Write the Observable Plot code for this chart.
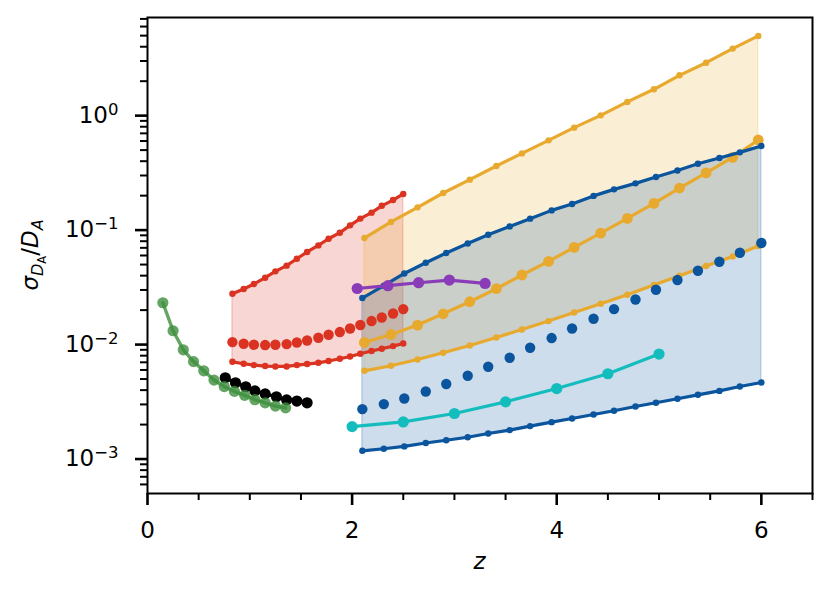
<!DOCTYPE html>
<html>
<head>
<meta charset="utf-8">
<script src="https://cdn.jsdelivr.net/npm/d3@7"></script>
<script src="https://cdn.jsdelivr.net/npm/@observablehq/plot@0.6"></script>
<style>
  html, body { margin: 0; padding: 0; background: #fff; overflow: hidden; }
  #chart svg { display: block; }
</style>
</head>
<body>
<div id="chart"></div>
<script>
// ---------------- data ----------------
const zGreen = [0.15,0.25,0.35,0.45,0.55,0.65,0.75,0.85,0.95,1.05,1.15,1.25,1.35];
const green  = [0.0232,0.0132,0.0090,0.0071,0.0059,0.0049,0.0043,0.0039,0.0036,0.0033,0.0031,0.0029,0.0028];

const zBlack = [0.76,0.86,0.96,1.05,1.15,1.26,1.36,1.46,1.56];
const black  = [0.00513,0.00464,0.00428,0.00394,0.00371,0.00350,0.00329,0.00321,0.00310];

const zRed   = [0.83,0.94,1.04,1.15,1.25,1.36,1.46,1.56,1.67,1.77,1.88,1.98,2.08,2.19,2.29,2.40,2.50];
const redHi  = [0.0278,0.0306,0.0338,0.0384,0.0436,0.0489,0.0562,0.0644,0.0735,0.0841,0.0949,0.110,0.126,0.142,0.163,0.183,0.207];
const redMid = [0.01051,0.01016,0.00996,0.00990,0.00996,0.01010,0.01043,0.01086,0.01146,0.01218,0.01286,0.01383,0.01481,0.01605,0.01725,0.01868,0.02041];
const redLo  = [0.00707,0.00680,0.00662,0.00649,0.00644,0.00644,0.00662,0.00676,0.00693,0.00718,0.00752,0.00787,0.00831,0.00878,0.00919,0.00970,0.01022];

const zOrange   = [2.12,2.38,2.64,2.89,3.15,3.41,3.66,3.92,4.17,4.43,4.69,4.95,5.20,5.46,5.72,5.97];
const orangeHi  = [0.0853,0.1178,0.158,0.211,0.276,0.363,0.468,0.608,0.785,1.006,1.318,1.698,2.25,2.90,3.85,4.97];
const orangeMid = [0.01043,0.01225,0.01480,0.01858,0.02366,0.03076,0.04053,0.0533,0.0706,0.0941,0.1265,0.171,0.233,0.316,0.432,0.613];
const orangeLo  = [0.00590,0.00653,0.00741,0.00848,0.00982,0.01154,0.01355,0.01604,0.01908,0.02274,0.02723,0.0331,0.0399,0.0486,0.0589,0.0726];

const zBlue   = [2.10,2.31,2.51,2.72,2.92,3.13,3.33,3.54,3.74,3.95,4.15,4.36,4.56,4.77,4.97,5.18,5.38,5.59,5.79,6.00];
const blueHi  = [0.0255,0.0327,0.0418,0.0519,0.0631,0.0764,0.0912,0.1077,0.1259,0.1487,0.169,0.199,0.227,0.256,0.291,0.332,0.380,0.427,0.478,0.543];
const blueMid = [0.00273,0.00302,0.00338,0.00389,0.00452,0.00534,0.00640,0.00767,0.00938,0.01140,0.01383,0.01682,0.02042,0.02477,0.03013,0.03661,0.04417,0.05294,0.06343,0.07713];
const blueLo  = [0.00118,0.00123,0.00129,0.00138,0.00146,0.00155,0.00167,0.00179,0.00194,0.00210,0.00226,0.00245,0.00264,0.00288,0.00310,0.00336,0.00364,0.00394,0.00430,0.00466];

const zPurple = [2.05,2.35,2.65,2.95,3.30];
const purple  = [0.0309,0.0327,0.0347,0.0366,0.0342];

const zCyan = [2.0,2.5,3.0,3.5,4.0,4.5,5.0];
const cyan  = [0.00192,0.00211,0.00250,0.00316,0.00413,0.00556,0.00826];

const xMajorTicks = [0,2,4,6];
const xMinorTicks = [0.5,1,1.5,2.5,3,3.5,4.5,5,5.5,6.5];
const yMajorTicks = [1e-3,1e-2,1e-1,1];
const yMinorTicks = [6e-4,7e-4,8e-4,9e-4,
  2e-3,3e-3,4e-3,5e-3,6e-3,7e-3,8e-3,9e-3,
  2e-2,3e-2,4e-2,5e-2,6e-2,7e-2,8e-2,9e-2,
  0.2,0.3,0.4,0.5,0.6,0.7,0.8,0.9,
  2,3,4,5,6,7];

// ---------------- colours ----------------
const C = {
  red: "#db3322", orange: "#e8aa2e", blue: "#0a559d",
  purple: "#8a3cb8", cyan: "#14bdbd", green: "#3d8f3d", black: "#000000"
};

// table helpers
const pts = (zs, vs) => zs.map((z, i) => ({z, v: vs[i]}));
const band = (zs, lo, hi) => zs.map((z, i) => ({z, lo: lo[i], hi: hi[i]}));

const redBand = band(zRed, redLo, redHi);
const orangeBand = band(zOrange, orangeLo, orangeHi);
const blueBand = band(zBlue, blueLo, blueHi);

function lineDots(data, color, r, withLine = true, sw = 3.2, opacity = 1) {
  const m = [];
  if (withLine) m.push(Plot.line(data, {x: "z", y: "v", stroke: color, strokeWidth: sw, strokeOpacity: opacity}));
  m.push(Plot.dot(data, {x: "z", y: "v", r, fill: color, fillOpacity: opacity}));
  return m;
}

const chart = Plot.plot({
  width: 830,
  height: 593,
  marginLeft: 147,
  marginRight: 18,
  marginTop: 17,
  marginBottom: 100,
  style: {fontFamily: "DejaVu Sans, sans-serif", fontSize: "23px", background: "white", color: "black"},
  x: {domain: [0, 6.5]},
  y: {type: "log", domain: [5e-4, 7.2]},
  marks: [
    // shaded bands
    Plot.areaY(redBand, {x: "z", y1: "lo", y2: "hi", fill: C.red, fillOpacity: 0.2, stroke: C.red, strokeOpacity: 0.2, strokeWidth: 1.5}),
    Plot.areaY(orangeBand, {x: "z", y1: "lo", y2: "hi", fill: C.orange, fillOpacity: 0.2, stroke: C.orange, strokeOpacity: 0.2, strokeWidth: 1.5}),
    Plot.areaY(blueBand, {x: "z", y1: "lo", y2: "hi", fill: C.blue, fillOpacity: 0.2, stroke: C.blue, strokeOpacity: 0.2, strokeWidth: 1.5}),
    // red
    ...lineDots(pts(zRed, redHi), C.red, 3.2),
    ...lineDots(pts(zRed, redLo), C.red, 3.2),
    ...lineDots(pts(zRed, redMid), C.red, 5.2, false),
    // orange
    ...lineDots(pts(zOrange, orangeHi), C.orange, 3.2),
    ...lineDots(pts(zOrange, orangeLo), C.orange, 3.2),
    ...lineDots(pts(zOrange, orangeMid), C.orange, 5.4),
    // blue
    ...lineDots(pts(zBlue, blueHi), C.blue, 3.2),
    ...lineDots(pts(zBlue, blueLo), C.blue, 3.2),
    ...lineDots(pts(zBlue, blueMid), C.blue, 5.2, false),
    // purple & cyan
    ...lineDots(pts(zPurple, purple), C.purple, 5.6),
    ...lineDots(pts(zCyan, cyan), C.cyan, 5.6),
    // black & green
    ...lineDots(pts(zBlack, black), C.black, 5.6),
    ...lineDots(pts(zGreen, green), C.green, 5.6, true, 3.4, 0.8),
    // axes
    Plot.axisX(xMajorTicks, {tickSize: 12, tickPadding: 16, stroke: "black", strokeWidth: 2.6, label: null, tickFormat: d => String(d)}),
    Plot.axisX(xMinorTicks, {tickSize: 7, stroke: "black", strokeWidth: 2, label: null, tickFormat: () => ""}),
    Plot.axisY(yMajorTicks, {tickSize: 12, tickPadding: 17, stroke: "black", strokeWidth: 2.6, label: null, tickFormat: d => "10^" + Math.round(Math.log10(d))}),
    Plot.axisY(yMinorTicks, {tickSize: 7, stroke: "black", strokeWidth: 2, label: null, tickFormat: () => ""}),
    Plot.frame({stroke: "black", strokeWidth: 2})
  ]
});

document.getElementById("chart").appendChild(chart);

const svg = d3.select(chart);

// superscript tick labels
svg.selectAll("text").each(function () {
  const t = d3.select(this);
  const s = t.text();
  const m = /^10\^(-?\d+)$/.exec(s);
  if (!m) return;
  t.text("");
  t.append("tspan").text("10");
  t.append("tspan").attr("font-size", "16.5px").attr("dy", "-8.3")
    .text(m[1].replace("-", "\u2212"));
});

// x label
svg.append("text")
  .attr("x", (147 + 812) / 2)
  .attr("y", 569)
  .attr("text-anchor", "middle")
  .attr("font-size", "23px")
  .attr("font-style", "italic")
  .attr("fill", "black")
  .text("z");

// y label: sigma_{D_A} / D_A
const yl = svg.append("text")
  .attr("transform", "translate(38,255) rotate(-90)")
  .attr("text-anchor", "middle")
  .attr("font-size", "23px")
  .attr("fill", "black");
yl.append("tspan").attr("font-style", "italic").text("σ");
yl.append("tspan").attr("font-style", "italic").attr("font-size", "16px").attr("dy", "5").text("D");
yl.append("tspan").attr("font-size", "11.5px").attr("dy", "3").text("A");
yl.append("tspan").attr("dy", "-8").text("/");
yl.append("tspan").attr("font-style", "italic").text("D");
yl.append("tspan").attr("font-style", "italic").attr("font-size", "16px").attr("dy", "5").text("A");
</script>
</body>
</html>
